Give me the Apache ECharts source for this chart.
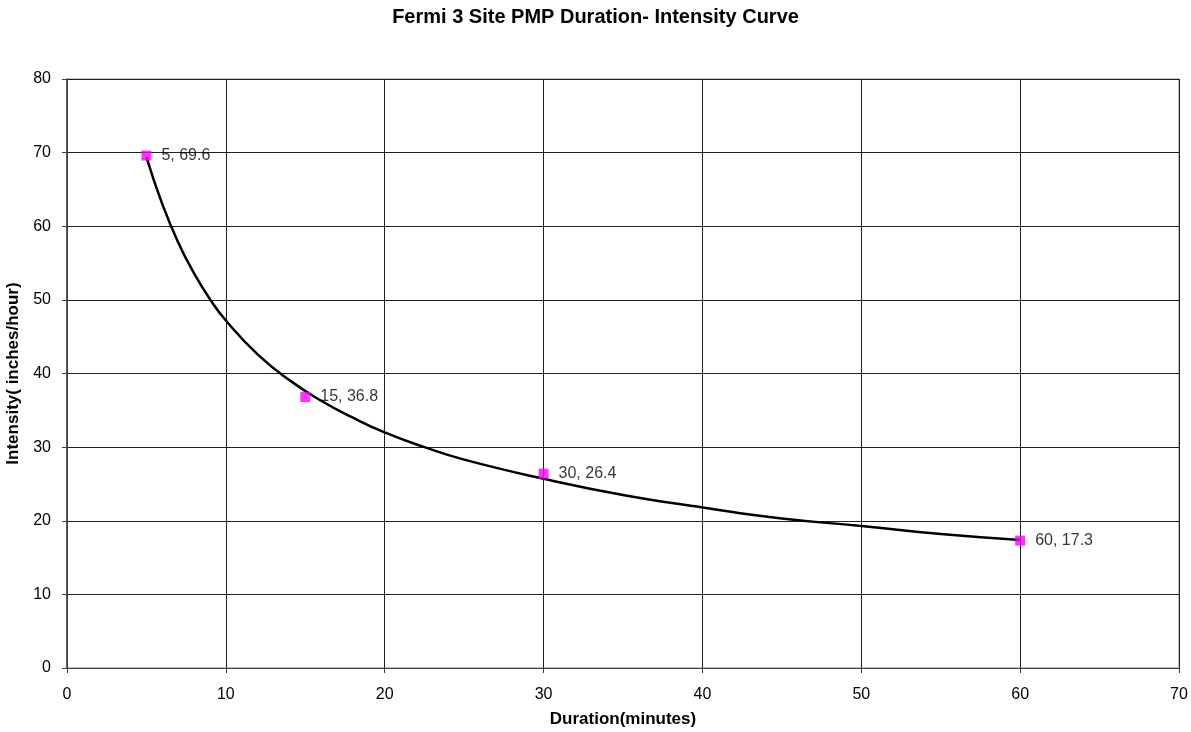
<!DOCTYPE html>
<html><head><meta charset="utf-8">
<script src="https://cdn.jsdelivr.net/npm/echarts@6/dist/echarts.min.js"></script>
<style>html,body{margin:0;padding:0;background:#fff}#c{width:1191px;height:732px}</style>
</head><body><div id="c"></div>
<script>
// observed data points
const durations = [5, 15, 30, 60];
const intensities = [69.6, 36.8, 26.4, 17.3];
// trend curve values
const curveX = [5, 6, 7, 8, 9, 10, 12, 14, 16, 18, 20, 22.5, 25, 30, 35, 40, 45, 50, 55, 60];
const curveY = [69.4, 63.0, 57.8, 53.6, 50.1, 47.2, 42.6, 39.1, 36.3, 34.0, 32.0, 30.0, 28.3, 25.7, 23.5, 21.8, 20.3, 19.3, 18.2, 17.4];
const xTicks = [0, 10, 20, 30, 40, 50, 60, 70];
const yTicks = [0, 10, 20, 30, 40, 50, 60, 70, 80];

const font = 'Liberation Sans, Arial, sans-serif';
const chart = echarts.init(document.getElementById('c'));
chart.setOption({
  animation: false,
  backgroundColor: '#fff',
  title: {
    text: 'Fermi 3 Site PMP Duration- Intensity Curve',
    left: 'center', top: 2,
    textStyle: {fontFamily: font, fontSize: 20, fontWeight: 'bold', color: '#000'}
  },
  grid: {left: 67, top: 79, right: 12, bottom: 64, show: true, borderColor: '#808080', borderWidth: 1,
         containLabel: false, outerBoundsMode: 'none'},
  xAxis: {
    type: 'value', min: xTicks[0], max: xTicks[xTicks.length - 1], interval: 10,
    name: 'Duration(minutes)', nameLocation: 'middle', nameGap: 43,
    nameTextStyle: {fontFamily: font, fontSize: 17, fontWeight: 'bold', color: '#000'},
    axisLine: {lineStyle: {color: '#404040'}},
    axisTick: {show: true, length: 5, lineStyle: {color: '#404040'}},
    axisLabel: {fontFamily: font, fontSize: 16, color: '#000', margin: 19},
    splitLine: {show: true, lineStyle: {color: '#202020', width: 1}}
  },
  yAxis: {
    type: 'value', min: yTicks[0], max: yTicks[yTicks.length - 1], interval: 10,
    name: 'Intensity( inches/hour)', nameLocation: 'middle', nameGap: 44, nameRotate: 90,
    nameTextStyle: {fontFamily: font, fontSize: 17, fontWeight: 'bold', color: '#000'},
    axisLine: {show: true, lineStyle: {color: '#404040', width: 1.5}},
    axisTick: {show: true, length: 5, lineStyle: {color: '#404040'}},
    axisLabel: {fontFamily: font, fontSize: 16, color: '#000', margin: 16},
    splitLine: {show: true, lineStyle: {color: '#202020', width: 1}}
  },
  series: [
    {
      type: 'line', smooth: true, symbol: 'none',
      data: curveX.map((x, i) => [x, curveY[i]]),
      lineStyle: {color: '#000', width: 2.5}, z: 2
    },
    {
      type: 'scatter', symbol: 'rect', symbolSize: 10,
      itemStyle: {color: '#FF00FF'},
      data: durations.map((x, i) => [x, intensities[i]]),
      label: {
        show: true, position: 'right', distance: 10,
        fontFamily: font, fontSize: 16, color: '#000',
        formatter: p => p.value[0] + ', ' + p.value[1]
      },
      z: 3
    }
  ]
});
</script></body></html>
